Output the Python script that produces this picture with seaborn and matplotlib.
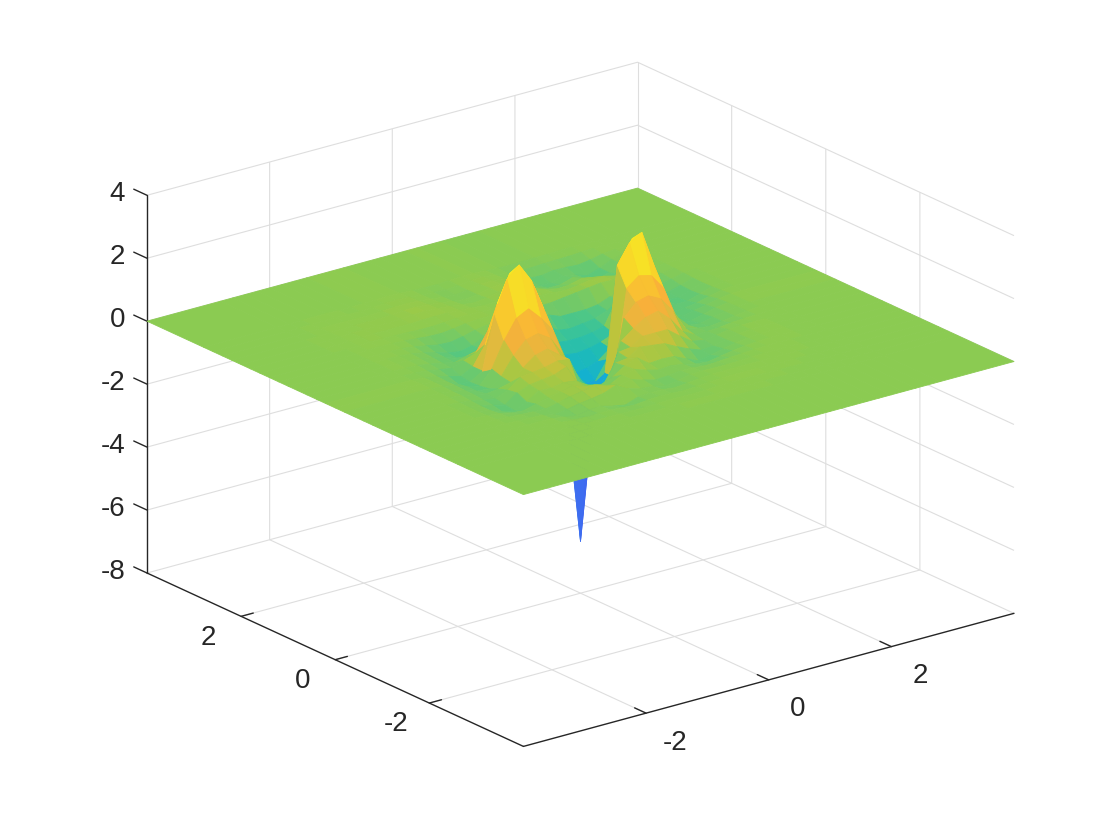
import numpy as np
import seaborn as sns
import matplotlib
matplotlib.use('Agg')
import matplotlib.pyplot as plt
from matplotlib.colors import LinearSegmentedColormap, Normalize
from mpl_toolkits.mplot3d import proj3d

sns.set_theme(style='white')
plt.rcParams['font.family'] = ['Liberation Sans', 'DejaVu Sans']
plt.rcParams['axes.unicode_minus'] = False

x_ticks = [-2, 0, 2]
y_ticks = [-2, 0, 2]
z_ticks = [-8, -6, -4, -2, 0, 2, 4]
x_labels = ['-2', '0', '2']
y_labels = ['-2', '0', '2']
z_labels = ['-8', '-6', '-4', '-2', '0', '2', '4']

# surface, columns x = -2.8 .. 2.8, rows y = 2.8 .. -2.8
# outside of this the sheet is flat at 0
x_vals = [-2.8, -2.6, -2.4, -2.2, -2.0, -1.8, -1.6, -1.4, -1.2, -1.0, -0.8, -0.6, -0.4, -0.2, 0.0,
          0.2, 0.4, 0.6, 0.8, 1.0, 1.2, 1.4, 1.6, 1.8, 2.0, 2.2, 2.4, 2.6, 2.8]
y_vals = [2.8, 2.6, 2.4, 2.2, 2.0, 1.8, 1.6, 1.4, 1.2, 1.0, 0.8, 0.6, 0.4, 0.2, 0.0,
          -0.2, -0.4, -0.6, -0.8, -1.0, -1.2, -1.4, -1.6, -1.8, -2.0, -2.2, -2.4, -2.6, -2.8]
z_vals = [
    [0, 0, 0, .01, .01, 0, 0, .01, .02, .03, .02, 0, -.02, -.02, 0, .02, .02, 0, -.03, -.04, -.03, -.02, -.01, 0, .01, .01, 0, 0, 0],
    [0, 0, .01, .02, .02, .01, 0, .02, .04, .05, .03, 0, -.03, -.05, -.02, .03, .04, 0, -.05, -.09, -.08, -.06, -.05, -.04, -.02, 0, .01, 0, 0],
    [0, .01, .02, .03, .03, .02, .02, .04, .06, .07, .05, .01, -.04, -.07, -.03, .05, .06, .02, -.08, -.18, -.2, -.14, -.15, -.18, -.12, -.04, 0, .01, 0],
    [0, .01, .03, .04, .04, .04, .04, .06, .09, .1, .07, .03, -.03, -.08, -.03, .07, .09, .03, -.12, -.28, -.3, -.18, -.25, -.38, -.25, -.08, 0, .01, 0],
    [0, .02, .03, .04, .05, .05, .06, .07, .1, .11, .09, .05, 0, -.05, 0, .08, .11, .05, -.1, -.22, -.22, -.1, -.22, -.36, -.25, -.1, -.02, .01, 0],
    [0, .02, .03, .05, .05, .05, .05, .05, .07, .08, .08, .06, .03, 0, .02, .08, .12, .08, -.02, -.1, -.08, .02, -.05, -.18, -.18, -.1, -.03, .01, 0],
    [0, .01, .02, .04, .04, .03, .02, 0, 0, .02, .05, .06, .05, .03, .03, .06, .08, .06, .02, 0, .05, .12, .12, .02, -.08, -.1, -.05, 0, .01],
    [0, .01, .02, .03, .02, 0, -.03, -.07, -.08, -.04, .02, .05, .05, .02, -.03, -.05, -.06, -.05, 0, .05, .1, .15, .14, .05, -.05, -.12, -.08, -.01, .01],
    [0, .01, .01, .01, 0, -.05, -.12, -.2, -.22, -.15, -.05, .02, .03, -.03, -.1, -.15, -.2, -.35, -.35, -.35, -.3, -.15, -.05, 0, -.1, -.18, -.12, -.03, .01],
    [0, .01, .01, 0, -.03, -.1, -.2, -.32, -.38, -.3, -.12, -.02, 0, -.1, -.2, -.28, -.55, -.6, -.55, -.5, -.35, -.1, 0, -.02, -.18, -.28, -.18, -.05, .01],
    [0, .01, .01, 0, -.05, -.12, -.22, -.35, -.4, -.28, -.08, .1, .05, -.2, -.6, -.7, -.75, -.75, -.7, -.6, .1, .2, -.05, -.15, -.3, -.33, -.2, -.06, .01],
    [0, .01, 0, -.02, -.08, -.15, -.25, -.15, -.05, .3, .7, .6, .2, -.1, -.7, -.95, -1, -.95, -.85, -.7, 1.0, .4, -.1, -.2, -.3, -.3, -.18, -.05, .01],
    [0, 0, -.02, -.05, -.12, -.18, -.05, .1, .7, 1.6, 1.6, 1.3, .4, -.3, -1, -1.4, -1.35, -1.2, -.9, 1.9, 1.5, .5, -.15, -.3, -.28, -.22, -.12, -.03, .01],
    [.01, 0, -.03, -.08, -.2, -.3, -.1, .5, 1.7, 2.55, 2.5, 1.9, .7, -.4, -1, -1.6, -1.6, -1.0, 2, 2.6, 1.6, .4, -.22, -.3, -.22, -.15, -.06, 0, .01],
    [.02, .02, -.03, -.1, -.3, -.35, -.1, 1.6, 2.6, 2.95, 2.35, 1.35, .1, -2.6, -6.35, -2.6, -1.2, 2.1, 2.7, 2.93, 1.77, .55, -.25, -.3, -.2, -.1, -.04, 0, .02],
    [.01, 0, -.03, -.1, -.25, -.33, .1, .9, 1.5, 1.7, 1.3, .8, -.2, -1.15, -1.35, -1.4, -1.2, 1.5, 1.8, 1.7, 1.2, .2, -.2, -.25, -.15, -.08, -.03, 0, .01],
    [.01, 0, -.05, -.12, -.25, -.28, 0, .55, .95, 1.05, .8, .2, -.6, -1, -1.1, -1.2, .8, 1.2, 1.3, 1.1, .6, -.05, -.15, -.2, -.15, -.08, -.03, 0, .01],
    [0, 0, -.05, -.12, -.2, -.15, -.05, .3, .6, .7, .4, -.1, -.75, -.9, -1, .3, .6, .85, .95, .6, .1, -.12, -.12, -.1, -.05, -.03, -.01, 0, 0],
    [0, -.02, -.08, -.15, -.22, -.05, .25, .3, .35, .45, .4, -.5, -.65, -.75, .2, .25, .5, .5, .5, .2, -.08, -.15, -.1, -.03, 0, .01, 0, 0, 0],
    [0, -.03, -.1, -.18, -.28, 0, .15, .2, .25, .4, -.3, -.45, -.5, .1, .15, .4, .35, .3, .1, -.08, -.22, -.2, -.1, -.03, .01, .02, .01, 0, 0],
    [0, -.03, -.1, -.25, -.32, -.15, .1, .08, .15, .1, -.15, -.25, -.1, .15, .3, .02, .05, .03, -.15, -.32, -.25, -.15, -.08, -.02, .01, .02, .01, 0, 0],
    [0, -.02, -.06, -.15, -.18, -.08, .02, .1, .2, .05, 0, -.1, .1, .18, .05, -.05, -.02, -.08, -.18, -.22, -.15, -.08, -.03, 0, .02, .02, .01, 0, 0],
    [0, -.01, -.04, -.06, -.08, -.1, -.02, .08, .15, .24, .1, .02, .1, -.02, -.12, -.1, -.05, -.06, -.1, -.08, -.05, -.03, 0, .01, .02, .01, 0, 0, 0],
    [0, 0, -.02, -.03, -.05, -.14, -.08, 0, .05, .12, .27, .05, -.06, -.08, -.18, -.12, -.03, -.02, -.03, -.03, -.02, 0, .01, .02, .02, .01, 0, 0, 0],
    [0, 0, -.01, -.01, -.02, -.08, -.14, -.06, -.05, -.15, -.22, -.08, -.05, -.05, -.1, -.06, -.02, .01, .02, .02, .02, .02, .02, .02, .01, 0, 0, 0, 0],
    [0, 0, 0, 0, 0, -.03, -.05, -.04, -.03, -.06, -.08, -.04, -.02, -.03, -.05, -.03, 0, .02, .03, .03, .03, .02, .02, .01, 0, 0, 0, 0, 0],
    [0, 0, 0, 0, 0, -.01, -.02, -.02, -.02, -.03, -.03, -.01, 0, 0, -.01, 0, .02, .03, .03, .03, .02, .01, .01, 0, 0, 0, 0, 0, 0],
    [0, 0, 0, 0, 0, 0, 0, 0, 0, -.01, -.01, 0, .01, .01, .01, .01, .02, .02, .02, .01, .01, 0, 0, 0, 0, 0, 0, 0, 0],
    [0, 0, 0, 0, 0, 0, 0, 0, 0, 0, 0, 0, 0, .01, .01, .01, .01, .01, .01, 0, 0, 0, 0, 0, 0, 0, 0, 0, 0],
]

# colours as seen at each height
color_z = [-6.35, -4.4, -3.3, -2.6, -1.6, -1, -.5, -.2, 0, .1, .3, .6, 1.1, 1.8, 2.5, 2.95]
color_hex = ['#3d2aa8', '#4045e8', '#4550f0', '#3a80f0', '#12aed4', '#1fbcb6', '#45c68e', '#6cc96d',
             '#8bcb52', '#98ca4a', '#bcc43c', '#e0ba3e', '#f9b03a', '#f9cf2a', '#f6e825', '#f9f514']

norm = Normalize(color_z[0], color_z[-1])
cmap = LinearSegmentedColormap.from_list('sheet', [(norm(v), c) for v, c in zip(color_z, color_hex)], N=512)

x_full = np.concatenate([[-4.0], x_vals, [4.0]])
y_full = np.concatenate([[4.0], y_vals, [-4.0]])
X, Y = np.meshgrid(x_full, y_full)
Z = np.pad(np.array(z_vals, dtype=float), 1)

fig = plt.figure(figsize=(11.2, 8.4), dpi=100)
ax = fig.add_axes([0.05, 0.05, 0.9, 0.9], projection='3d', proj_type='ortho')
ax.view_init(elev=20.7, azim=-127.5)
ax.set_box_aspect((1, 1, 0.653))
surf = ax.plot_surface(X, Y, Z, cmap=cmap, norm=norm, rstride=1, cstride=1, linewidth=0.6, antialiased=True)
surf.set_edgecolor('face')

ax.set_xlim(-4, 4, view_margin=0)
ax.set_ylim(-4, 4, view_margin=0)
ax.set_zlim(-8, 4, view_margin=0)
ax.set_xticks(x_ticks, x_labels)
ax.set_yticks(y_ticks, y_labels)
ax.set_zticks(z_ticks, z_labels)

# back corner of the box, the grid covers the other edges
ax.plot([4, 4], [4, 4], [-8, 4], color='#dedede', lw=0.8, zorder=0)

for axis, out in ((ax.xaxis, 0.38), (ax.yaxis, 0.31), (ax.zaxis, 0.44)):
    axis.pane.set_facecolor('white')
    axis.pane.set_edgecolor('none')
    axis.line.set_color('#262626')
    axis.line.set_linewidth(1.0)
    axis._axinfo['grid'].update(color='#dedede', linewidth=0.8)
    axis._axinfo['tick'].update(inward_factor=0.0, outward_factor=out, linewidth={True: 1.0, False: 0.8})
ax.tick_params(axis='x', labelsize=20, labelcolor='#262626', color='#262626', pad=19)
ax.tick_params(axis='y', labelsize=20, labelcolor='#262626', color='#262626', pad=15.5)
ax.tick_params(axis='z', labelsize=20, labelcolor='#262626', color='#262626', pad=0.8)
plt.setp(ax.get_xticklabels(), ha='center', va='bottom')
plt.setp(ax.get_yticklabels(), ha='center', va='bottom')
plt.setp(ax.get_zticklabels(), ha='right', va='center')
# z ticks run along y like in the reference, not along x
ax.zaxis._get_tickdir = lambda position: 1


# fit the box on the canvas: left and right floor corners of the reference
def corner_px(cx, cy, cz):
    px, py, _ = proj3d.proj_transform(cx, cy, cz, ax.get_proj())
    return ax.transData.transform((px, py))


for _ in range(3):
    fig.canvas.draw()
    left = corner_px(-4, 4, -8)
    right = corner_px(4, -4, -8)
    pos = ax.get_position()
    s = 867 / (right[0] - left[0])
    ax.set_position([pos.x0, pos.y0, pos.width * s, pos.height * s])
    fig.canvas.draw()
    left = corner_px(-4, 4, -8)
    pos = ax.get_position()
    ax.set_position([pos.x0 + (147 - left[0]) / 1120, pos.y0 + ((840 - 573) - left[1]) / 840, pos.width, pos.height])

fig.savefig('out.png', dpi=100)
